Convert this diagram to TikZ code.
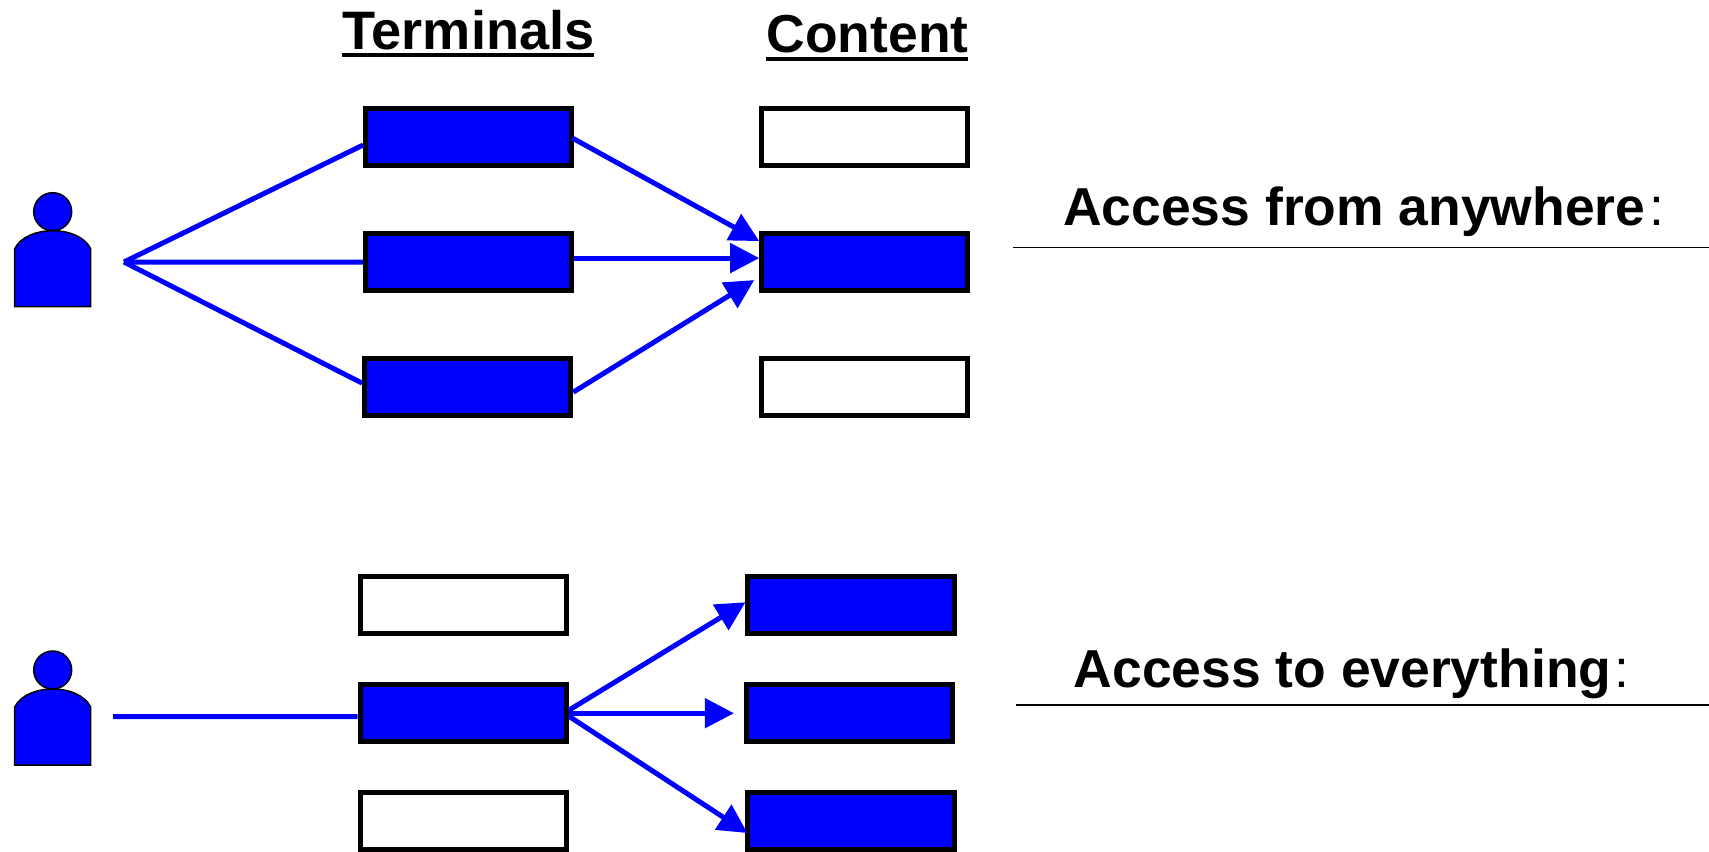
\documentclass[tikz,border=0pt]{standalone}
\usepackage{fontspec}
\setmainfont{Liberation Sans}
\usetikzlibrary{arrows.meta}

\begin{document}
\begin{tikzpicture}[x=0.01cm, y=-0.01cm, node distance=1.25cm,
    emptybox/.style={rectangle, draw=black, fill=white, line width=0.05cm, minimum width=2.06cm, minimum height=0.57cm},
    fullbox/.style={emptybox, fill=blue},
    flow/.style={draw=blue, line width=0.05cm},
    flowtip/.style={flow, -{Triangle[length=0.29cm, width=0.29cm]}},
    heading/.style={anchor=base west, inner sep=0pt, font=\fontsize{15.2}{18}\selectfont\bfseries},
    title/.style={heading, font=\fontsize{15.4}{18}\selectfont\bfseries},
    rulebelow/.style={draw=black, line width=0.015cm},
    underrule/.style={draw=black, line width=0.035cm},
    person/.pic={
        \draw[fill=blue, line width=0.015cm] (-38,95) -- (-38,37) .. controls (-32,25) and (-16,19) .. (0,19) .. controls (16,19) and (32,25) .. (38,37) -- (38,95) -- cycle;
        \draw[fill=blue, line width=0.015cm] (0,0) circle (19);
    }]
    \useasboundingbox (0,0) rectangle (1709,851);

    % upper half
    \node[fullbox] (t1) at (468.7,137) {};
    \node[fullbox] (t2) [below of=t1] {};
    \node[fullbox] (t3) [below of=t2, xshift=-0.01cm] {};
    \node[emptybox] (c1) at (864.8,137) {};
    \node[fullbox] (c2) [below of=c1] {};
    \node[emptybox] (c3) [below of=c2] {};

    \pic at (52.7,211.7) {person};
    \coordinate (hub1) at (124,262);
    \draw[flow] (hub1) -- ([yshift=-0.08cm]t1.west);
    \draw[flow] (hub1) -- (t2.west);
    \draw[flow] (hub1) -- ([yshift=0.04cm]t3.west);

    \draw[flowtip] ([yshift=-0.01cm, xshift=-0.02cm]t1.east) -- ([yshift=0.21cm]c2.west);
    \draw[flowtip] ([yshift=0.04cm]t2.east) -- ([yshift=0.04cm]c2.west);
    \draw[flowtip] ([yshift=-0.05cm]t3.east) -- ([yshift=-0.18cm, xshift=-0.05cm]c2.west);

    % lower half
    \node[emptybox] (t4) at (463.3,605.3) {};
    \node[fullbox] (t5) at (463.3,713.2) {};
    \node[emptybox] (t6) at (463.3,821) {};
    \node[fullbox] (c4) at (851,605.3) {};
    \node[fullbox] (c5) at (849.5,713.2) {};
    \node[fullbox] (c6) at (851,821) {};

    \pic at (52.7,670) {person};
    \coordinate (hub2) at (113,716.7);
    \draw[flow] (hub2) -- ([yshift=-0.035cm]t5.west);

    \draw[flowtip] ([yshift=0.03cm]t5.east) -- ([yshift=0.03cm]c4.west);
    \draw[flowtip] (t5.east) -- ([xshift=-0.1cm]c5.west);
    \draw[flowtip] ([yshift=-0.03cm]t5.east) -- ([yshift=-0.12cm, xshift=0.02cm]c6.west);

    % titles
    \node[title] (terminals) at (342,49.5) {Terminals};
    \node[heading] (content) at (766,52.3) {Content};
    \draw[underrule] (342,55) -- (594,55);
    \draw[underrule] (766,59) -- (968,59);

    \node[heading] (anywhere) at (1062.5,225) {Access from anywhere\hspace{0.035cm}{\mdseries:}};
    \node[heading] (everything) at (1073,687) {Access to everything\hspace{0.035cm}{\mdseries:}};
    \coordinate (rule1a) at (1013,247.3);
    \coordinate (rule1b) at (1709,247.3);
    \coordinate (rule2a) at (1016,705);
    \coordinate (rule2b) at (1709,705);
    \draw[rulebelow] (rule1a) -- (rule1b);
    \draw[rulebelow] (rule2a) -- (rule2b);
\end{tikzpicture}
\end{document}
